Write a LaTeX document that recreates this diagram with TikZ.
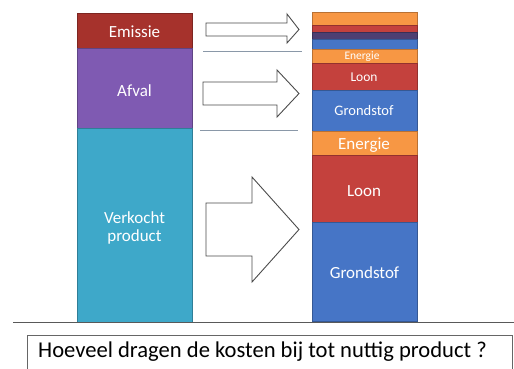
\documentclass[tikz,border=0pt]{standalone}
\usepackage{fontspec}
\setmainfont{Carlito}
\definecolor{emis}{HTML}{A6322C}
\definecolor{afval}{HTML}{7F5AB2}
\definecolor{verk}{HTML}{3EA8C9}
\definecolor{loon}{HTML}{C4413D}
\definecolor{grond}{HTML}{4675C6}
\definecolor{energ}{HTML}{F79744}
\definecolor{darkl}{HTML}{4E3F72}
\definecolor{linec}{HTML}{8A98A8}
\begin{document}
\begin{tikzpicture}[x=1pt,y=-1pt,
  seg/.style={draw=#1!75!black, fill=#1, line width=0.8pt, inner sep=0pt},
  lab/.style={text=white, font=\fontsize{#1}{#1}\selectfont, align=center, inner sep=0pt},
  hollow/.style={draw=black!70, line width=0.9pt, fill=white, line join=miter}]
\clip (0,0) rectangle (514,368);
\fill[white] (0,0) rectangle (514,368);
% left bar
\path[seg=emis] (77,13) rectangle (192,48);
\path[seg=afval] (77,48) rectangle (192,128);
\path[seg=verk] (77,128) rectangle (192,322);
\node[lab=17] (emissie) at (134.5,32) {Emissie};
\node[lab=17] (afvaltxt) at (134.5,91) {Afval};
\node[lab=17] (verkocht) at (134.5,228) {Verkocht\\[1pt]product};
% right bar
\path[seg=energ] (312,12) rectangle (417,25);
\path[seg=loon] (312,25) rectangle (417,32);
\path[seg=darkl] (312,32) rectangle (417,39);
\path[seg=grond] (312,39) rectangle (417,49);
\path[seg=energ] (312,49) rectangle (417,63);
\path[seg=loon] (312,63) rectangle (417,90);
\path[seg=grond] (312,90) rectangle (417,131);
\path[seg=energ] (312,131) rectangle (417,155);
\path[seg=loon] (312,155) rectangle (417,222);
\path[seg=grond] (312,222) rectangle (417,321);
\node[lab=11.5] (e1) at (362,57) {Energie};
\node[lab=13.5] (l1) at (364,77) {Loon};
\node[lab=14.5] (g1) at (364,111) {Grondstof};
\node[lab=17] (e2) at (364,145) {Energie};
\node[lab=17] (l2) at (364,191) {Loon};
\node[lab=17] (g2) at (364.5,273) {Grondstof};
% arrows
\draw[hollow] (206,23) -- (287,23) -- (287,14) -- (299,29.5) -- (287,43) -- (287,36) -- (206,36) -- cycle;
\draw[hollow] (203,82) -- (277,82) -- (277,70) -- (299,93.5) -- (277,117) -- (277,105) -- (203,105) -- cycle;
\draw[hollow] (206,203) -- (252,203) -- (252,177) -- (299,229.5) -- (252,282) -- (252,256) -- (206,256) -- cycle;
% separators
\draw[linec, line width=1pt] (203,51) -- (302,51);
\draw[linec, line width=1pt] (200,130) -- (298,130);
\draw[black!65, line width=0.8pt] (13,322) -- (514,322);
% question box
\node[draw=black!60, line width=0.9pt, fill=white, minimum width=485pt, minimum height=40pt, anchor=north west, inner sep=0pt] (box) at (27,335) {};
\node[font=\fontsize{22.6}{24}\selectfont, anchor=base west, inner sep=0pt] (question) at (38,357) {Hoeveel dragen de kosten bij tot nuttig product ?};
\end{tikzpicture}
\end{document}
